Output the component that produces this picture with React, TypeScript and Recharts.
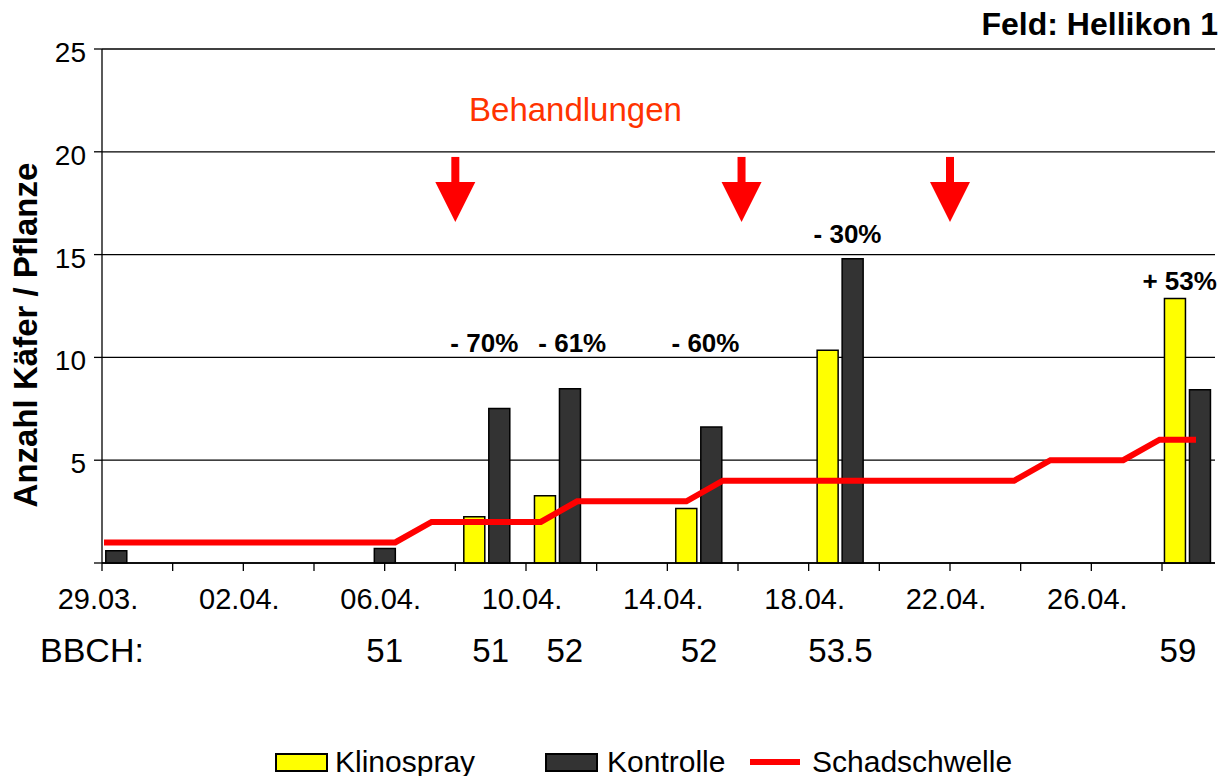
import {
  Bar,
  CartesianGrid,
  ComposedChart,
  Line,
  ReferenceDot,
  XAxis,
  YAxis,
} from "recharts";

const FONT = "Arial, 'Liberation Sans', Helvetica, sans-serif";

// sampling dates, in days after 29.03.
const sampleDays = [0.06, 7.66, 10.9, 12.9, 16.9, 20.9, 30.73];
const klinospray = [null, null, 2.25, 3.27, 2.65, 10.35, 12.86];
const kontrolle = [0.6, 0.71, 7.51, 8.48, 6.62, 14.8, 8.43];

// Schadschwelle, one value per day (29.03. - 28.04.)
const schadschwelle = [
  1, 1, 1, 1, 1, 1, 1, 1, 1, 2, 2, 2, 2, 3, 3, 3, 3, 4, 4, 4, 4, 4, 4, 4, 4, 4, 5, 5, 5, 6, 6,
];

const dayTicks = [0, 2, 4, 6, 8, 10, 12, 14, 16, 18, 20, 22, 24, 26, 28, 30];
const labelDays = [0, 4, 8, 12, 16, 20, 24, 28];
const dateLabels = ["29.03.", "02.04.", "06.04.", "10.04.", "14.04.", "18.04.", "22.04.", "26.04."];

const bbchDays = [8, 11, 13.1, 16.9, 20.9, 30.45];
const bbchLabels = ["51", "51", "52", "52", "53.5", "59"];

const treatmentDays = [10, 18.1, 24];

const effectDays = [10.82, 13.31, 17.08, 21.1, 30.5];
const effectLevels = [10.7, 10.7, 10.7, 16.0, 13.7];
const effectLabels = ["- 70%", "- 61%", "- 60%", "- 30%", "+ 53%"];

const yTicks = [0, 5, 10, 15, 20, 25];

const YELLOW = "#ffff00";
const DARK = "#333333";
const RED = "#ff0000";

const rows = sampleDays.map((day, i) => ({
  day,
  klinospray: klinospray[i],
  kontrolle: kontrolle[i],
}));

const thresholdRows = schadschwelle.map((v, i) => ({ i, v }));

function DateTick(props: any) {
  const { x, y, payload } = props;
  const idx = labelDays.indexOf(payload.value);
  if (idx < 0) return <g />;
  return (
    <text x={x - 4} y={y + 36} textAnchor="middle" fontSize={29} fontFamily={FONT} fill="#000">
      {dateLabels[idx]}
    </text>
  );
}

function ValueTick(props: any) {
  const { x, y, payload } = props;
  if (payload.value === 0) return <g />;
  return (
    <text x={x} y={y + 13} textAnchor="end" fontSize={28} fontFamily={FONT} fill="#000">
      {payload.value}
    </text>
  );
}

function Arrow(props: any) {
  const { cx, cy } = props;
  return (
    <g>
      <rect x={cx - 4} y={cy} width={8} height={26} fill={RED} />
      <polygon points={`${cx - 20},${cy + 25} ${cx + 20},${cy + 25} ${cx},${cy + 65}`} fill={RED} />
    </g>
  );
}

export default function App() {
  return (
    <div
      style={{
        position: "absolute",
        left: 0,
        top: 0,
        width: 1227,
        height: 776,
        background: "#fff",
        fontFamily: FONT,
        color: "#000",
      }}
    >
      <ComposedChart
        width={1227}
        height={776}
        data={rows}
        barGap={4}
        margin={{ top: 49, right: 12, bottom: 173, left: 42 }}
      >
        <CartesianGrid vertical={false} stroke="#000" strokeWidth={1.3} />
        <XAxis
          dataKey="day"
          type="number"
          domain={[0, 31.5]}
          allowDataOverflow
          ticks={dayTicks}
          interval={0}
          height={40}
          tickSize={8}
          tickMargin={2}
          axisLine={{ stroke: "#000", strokeWidth: 1.3 }}
          tickLine={{ stroke: "#000", strokeWidth: 1.3 }}
          tick={DateTick}
        />
        <XAxis
          xAxisId="line"
          dataKey="i"
          type="number"
          domain={[0, 30]}
          allowDataOverflow
          hide
          padding={{ left: 2, right: 19 }}
        />
        <YAxis
          type="number"
          domain={[0, 25]}
          ticks={yTicks}
          interval={0}
          width={60}
          tickSize={8}
          tickMargin={8}
          axisLine={{ stroke: "#000", strokeWidth: 1.3 }}
          tickLine={{ stroke: "#000", strokeWidth: 1.3 }}
          tick={ValueTick}
        />
        <Bar
          dataKey="klinospray"
          fill={YELLOW}
          stroke="#000"
          strokeWidth={1.5}
          barSize={21}
          isAnimationActive={false}
        />
        <Bar
          dataKey="kontrolle"
          fill={DARK}
          stroke="#000"
          strokeWidth={1.5}
          barSize={21}
          isAnimationActive={false}
        />
        <Line
          data={thresholdRows}
          xAxisId="line"
          dataKey="v"
          type="linear"
          stroke={RED}
          strokeWidth={6}
          dot={false}
          activeDot={false}
          isAnimationActive={false}
        />
        {treatmentDays.map((d) => (
          <ReferenceDot key={`t${d}`} x={d} y={19.75} r={0} ifOverflow="visible" shape={Arrow} />
        ))}
        <ReferenceDot
          x={13.4}
          y={22.1}
          r={0}
          ifOverflow="visible"
          shape={(p: any) => (
            <text
              x={p.cx}
              y={p.cy + 12}
              textAnchor="middle"
              fontSize={33}
              fontFamily={FONT}
              fill="#ff3300"
            >
              Behandlungen
            </text>
          )}
        />
        {effectDays.map((d, i) => (
          <ReferenceDot
            key={`e${i}`}
            x={d}
            y={effectLevels[i]}
            r={0}
            ifOverflow="visible"
            shape={(p: any) => (
              <text
                x={p.cx}
                y={p.cy + 9}
                textAnchor="middle"
                fontSize={26}
                fontWeight="bold"
                fontFamily={FONT}
                fill="#000"
              >
                {effectLabels[i]}
              </text>
            )}
          />
        ))}
        {bbchDays.map((d, i) => (
          <ReferenceDot
            key={`b${i}`}
            x={d}
            y={0}
            r={0}
            ifOverflow="visible"
            shape={(p: any) => (
              <text
                x={p.cx}
                y={p.cy + 99}
                textAnchor="middle"
                fontSize={33}
                fontFamily={FONT}
                fill="#000"
              >
                {bbchLabels[i]}
              </text>
            )}
          />
        ))}
      </ComposedChart>

      <div
        style={{
          position: "absolute",
          right: 9,
          top: 8,
          fontSize: 32,
          fontWeight: "bold",
          lineHeight: 1,
          whiteSpace: "nowrap",
        }}
      >
        Feld: Hellikon 1
      </div>

      <div
        style={{
          position: "absolute",
          left: 25,
          top: 335,
          transform: "translate(-50%, -50%) rotate(-90deg)",
          fontSize: 33,
          fontWeight: "bold",
          lineHeight: 1,
          whiteSpace: "nowrap",
        }}
      >
        Anzahl Käfer / Pflanze
      </div>

      <div
        style={{
          position: "absolute",
          left: 40,
          top: 633,
          fontSize: 34,
          lineHeight: 1,
          whiteSpace: "nowrap",
        }}
      >
        BBCH:
      </div>

      <LegendItem left={275} gap={7} label="Klinospray" swatch={<Box color={YELLOW} />} />
      <LegendItem left={545} gap={9} label="Kontrolle" swatch={<Box color={DARK} />} />
      <LegendItem
        left={750}
        gap={12}
        label="Schadschwelle"
        swatch={<div style={{ width: 50, height: 6, background: RED }} />}
      />
    </div>
  );
}

function Box({ color }: { color: string }) {
  return (
    <div
      style={{
        width: 49,
        height: 15,
        background: color,
        border: "2px solid #000",
      }}
    />
  );
}

function LegendItem({
  left,
  gap,
  label,
  swatch,
}: {
  left: number;
  gap: number;
  label: string;
  swatch: any;
}) {
  return (
    <div
      style={{
        position: "absolute",
        left,
        top: 747,
        height: 30,
        display: "flex",
        alignItems: "center",
        gap,
        fontSize: 30,
        lineHeight: 1,
        whiteSpace: "nowrap",
      }}
    >
      {swatch}
      <span>{label}</span>
    </div>
  );
}
